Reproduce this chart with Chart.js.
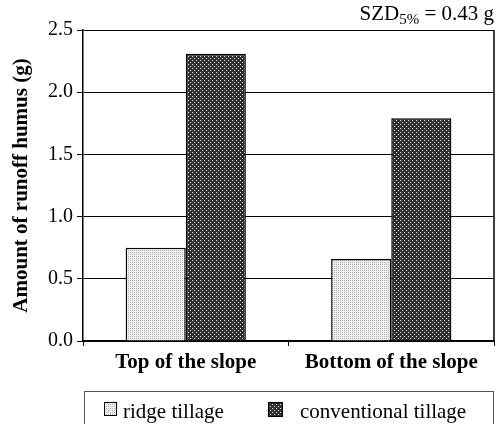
<!DOCTYPE html>
<html>
<head>
<meta charset="utf-8">
<script src="https://cdn.jsdelivr.net/npm/chart.js@4"></script>
<style>
html,body{margin:0;padding:0;background:#fff;}
#wrap{width:496px;height:424px;position:relative;}
</style>
</head>
<body>
<div id="wrap"><canvas id="c" width="496" height="424"></canvas></div>
<script>
const categories = ["Top of the slope", "Bottom of the slope"];
const seriesNames = ["ridge tillage", "conventional tillage"];
const ridgeTillage = [0.75, 0.66];
const conventionalTillage = [2.31, 1.79];
const yTicks = [0, 0.5, 1.0, 1.5, 2.0, 2.5];
const yTitle = "Amount of runoff humus (g)";
const note = {main: "SZD", sub: "5%", rest: " = 0.43 g"};

const SERIF = "'Liberation Serif', 'Times New Roman', serif";

function makePattern(size, bg, dots, dotColor) {
  const c = document.createElement('canvas');
  c.width = size; c.height = size;
  const g = c.getContext('2d');
  g.fillStyle = bg; g.fillRect(0, 0, size, size);
  g.fillStyle = dotColor;
  dots.forEach(d => g.fillRect(d[0], d[1], 1, 1));
  return g.createPattern(c, 'repeat');
}
const ctx = document.getElementById('c').getContext('2d');
const ridgeFill = makePattern(2, '#efefef', [[0, 0]], '#b4b4b4');
const convFill = makePattern(4, '#303030', [[0, 0], [2, 2]], '#e6e6e6');

const frame = {
  id: 'frame',
  afterDraw(chart) {
    const c = chart.ctx, a = chart.chartArea;
    c.save();
    c.strokeStyle = '#000';
    c.lineWidth = 1.5;
    c.beginPath();
    c.moveTo(a.right, a.top);
    c.lineTo(a.right, a.bottom);
    c.stroke();
    c.fillStyle = '#000';
    c.textBaseline = 'alphabetic';
    c.font = '21px ' + SERIF;
    const w1 = c.measureText(note.main).width;
    const w3 = c.measureText(note.rest).width;
    c.font = '15px ' + SERIF;
    const w2 = c.measureText(note.sub).width;
    let x = 494 - (w1 + w2 + w3);
    c.font = '21px ' + SERIF;
    c.fillText(note.main, x, 20);
    x += w1;
    c.font = '15px ' + SERIF;
    c.fillText(note.sub, x, 24);
    x += w2;
    c.font = '21px ' + SERIF;
    c.fillText(note.rest, x, 20);
    c.strokeStyle = '#555';
    c.lineWidth = 1;
    c.strokeRect(84.5, 391.5, 409, 40);
    const ds = chart.data.datasets;
    const boxes = [[104, 402, 13, 14, 123], [268, 402, 15, 15, 300]];
    c.font = '21px ' + SERIF;
    ds.forEach((d, i) => {
      const b = boxes[i];
      c.fillStyle = d.backgroundColor;
      c.fillRect(b[0], b[1], b[2], b[3]);
      c.strokeStyle = '#000';
      c.lineWidth = 1;
      c.strokeRect(b[0] + 0.5, b[1] + 0.5, b[2] - 1, b[3] - 1);
      c.fillStyle = '#000';
      c.fillText(d.label, b[4], 418);
    });
    c.restore();
  }
};

new Chart(ctx, {
  type: 'bar',
  data: {
    labels: categories,
    datasets: [
      {label: seriesNames[0], data: ridgeTillage, backgroundColor: ridgeFill, borderColor: '#000', borderWidth: 1.5, borderSkipped: 'bottom'},
      {label: seriesNames[1], data: conventionalTillage, backgroundColor: convFill, borderColor: '#000', borderWidth: 1.5, borderSkipped: 'bottom'}
    ]
  },
  options: {
    responsive: false,
    animation: false,
    devicePixelRatio: 1,
    layout: {padding: {top: 30, right: 2, left: 0, bottom: 0}},
    datasets: {bar: {categoryPercentage: 0.585, barPercentage: 1.0}},
    plugins: {legend: {display: false}, tooltip: {enabled: false}, title: {display: false}},
    scales: {
      x: {
        offset: true,
        afterFit: s => { s.height = 83; },
        grid: {display: true, drawOnChartArea: false, drawTicks: true, tickLength: 5, color: '#000', lineWidth: 1, offset: true},
        border: {display: true, color: '#000', width: 1.5},
        ticks: {color: '#000', padding: 4, font: {family: SERIF, size: 21, weight: 'bold'}, maxRotation: 0}
      },
      y: {
        min: 0, max: 2.5,
        afterFit: s => { s.width = 83; },
        afterBuildTicks: s => { s.ticks = yTicks.map(v => ({value: v})); },
        grid: {color: '#000', lineWidth: 1, tickLength: 6, drawTicks: true},
        border: {display: true, color: '#000', width: 1.5},
        ticks: {color: '#000', padding: 4, font: {family: SERIF, size: 20}, callback: v => Number(v).toFixed(1)},
        title: {display: true, text: yTitle, color: '#000', padding: {top: 9, bottom: 0}, font: {family: SERIF, size: 21, weight: 'bold'}}
      }
    }
  },
  plugins: [frame]
});
</script>
</body>
</html>
